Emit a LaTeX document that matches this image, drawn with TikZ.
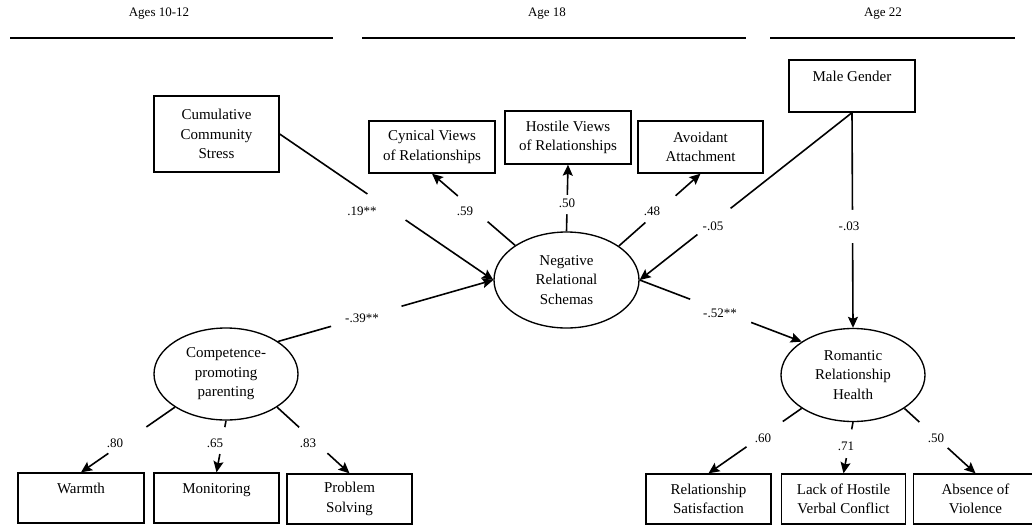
\documentclass[tikz,border=0pt]{standalone}
\usepackage{fontspec}
\setmainfont{Liberation Serif}
\usetikzlibrary{shapes.geometric,arrows.meta}
\begin{document}
\begin{tikzpicture}[x=1pt,y=-1pt,
  box/.style={draw, line width=1.35pt, rectangle, minimum width=125pt, minimum height=52pt, inner sep=0pt, align=center, font=\fontsize{15}{19.5}\selectfont},
  lat/.style={draw, line width=1.35pt, ellipse, minimum width=144pt, minimum height=92pt, inner sep=0pt, align=center, font=\fontsize{15}{19.5}\selectfont},
  arr/.style={line width=1.6pt, -{Stealth[length=11pt,width=10pt,inset=2pt]}},
  gapbox/.style={sloped, fill=white, inner sep=0pt, minimum height=6pt},
  coef/.style={font=\fontsize{13}{15}\selectfont, inner sep=0pt},
  hdr/.style={font=\fontsize{13}{15}\selectfont, inner sep=0pt},
  rulestyle/.style={line width=1.3pt}]
\fill[white] (0,0) rectangle (1032,525);
\useasboundingbox (0,0) rectangle (1032,525);

% headers
\node[hdr] (h1) at (159,14) {Ages 10-12};
\node[hdr] (h2) at (547,14) {Age 18};
\node[hdr] (h3) at (883,14) {Age 22};
\coordinate (r1a) at (10,38);  \coordinate (r1b) at (333,38);
\coordinate (r2a) at (362,38); \coordinate (r2b) at (746,38);
\coordinate (r3a) at (770,38); \coordinate (r3b) at (1015,38);
\draw[rulestyle] (r1a) -- (r1b);
\draw[rulestyle] (r2a) -- (r2b);
\draw[rulestyle] (r3a) -- (r3b);

% observed / latent variables
\node[box, minimum height=76pt] (cum) at (216.5,134) {Cumulative\\Community\\Stress};
\node[box, minimum width=126pt] (cyn) at (432,147) {Cynical Views\\of Relationships};
\node[box, minimum width=126pt, minimum height=53pt] (hos) at (568,137.5) {Hostile Views\\of Relationships};
\node[box] (avo) at (700.5,147) {Avoidant\\Attachment};
\node[box, minimum width=126pt] (male) at (852,86) {Male Gender\\\mbox{}};
\node[lat, minimum width=145pt, minimum height=96pt] (neg) at (566.5,280) {Negative\\Relational\\Schemas};
\node[lat] (comp) at (226,374) {Competence-\\promoting\\parenting};
\node[lat, minimum height=93pt] (rom) at (853,375) {Romantic\\Relationship\\Health};
\node[box, minimum width=126pt, minimum height=50pt] (warm) at (81,498) {Warmth\\\mbox{}};
\node[box, minimum height=50pt] (mon) at (216.5,498) {Monitoring\\\mbox{}};
\node[box, minimum height=50pt] (prob) at (349.5,499) {Problem\\Solving};
\node[box, minimum height=50pt] (rs) at (708.5,499) {Relationship\\Satisfaction};
\node[box, minimum width=124pt, minimum height=50pt] (lack) at (843.5,499) {Lack of Hostile\\Verbal Conflict};
\node[box, minimum width=124pt, minimum height=50pt] (abs) at (975.5,499) {Absence of\\Violence};

% structural paths
\draw[arr] (cum.east) -- node[gapbox, pos=0.5, minimum width=46pt] {} (neg.west);
\draw[arr] (comp.32) -- node[gapbox, pos=0.41, minimum width=73pt] {} (neg.west);
\draw[arr] (male.south) -- node[gapbox, pos=0.65, minimum width=42pt] {} (neg.east);
\draw[arr] (male.south) -- node[gapbox, pos=0.528, minimum width=33pt] {} (rom.north);
\draw[arr] (neg.east) -- node[gapbox, pos=0.5, minimum width=65pt] {} (rom.147);

% measurement paths
\draw[arr] (neg.146.6) -- node[gapbox, pos=0.51, minimum width=39pt] {} (cyn.south);
\draw[arr] (neg.north) -- node[gapbox, pos=0.4, minimum width=19pt] {} (hos.south);
\draw[arr] (neg.33.4) -- node[gapbox, pos=0.51, minimum width=40pt] {} (avo.south);
\draw[arr] (comp.213.7) -- node[gapbox, pos=0.506, minimum width=46pt] {} (warm.north);
\draw[arr] (comp.south) -- node[gapbox, pos=0.385, minimum width=27pt] {} (mon.north);
\draw[arr] (comp.-33) -- node[gapbox, pos=0.5, minimum width=38pt] {} (prob.north);
\draw[arr] (rom.213) -- node[gapbox, pos=0.397, minimum width=44pt] {} (rs.north);
\draw[arr] (rom.south) -- node[gapbox, pos=0.42, minimum width=29pt] {} (lack.north);
\draw[arr] (rom.-33) -- node[gapbox, pos=0.41, minimum width=38pt] {} (abs.north);

% coefficients
\node[coef] (c1) at (362,211) {.19**};
\node[coef] (c2) at (362,318) {-.39**};
\node[coef] (c3) at (713,226) {-.05};
\node[coef] (c4) at (849,226) {-.03};
\node[coef] (c5) at (720,313) {-.52**};
\node[coef] (c6) at (465,211) {.59};
\node[coef] (c7) at (567,203) {.50};
\node[coef] (c8) at (652,211) {.48};
\node[coef] (c9) at (115,443) {.80};
\node[coef] (c10) at (215,443) {.65};
\node[coef] (c11) at (308,443) {.83};
\node[coef] (c12) at (763,438) {.60};
\node[coef] (c13) at (846,446) {.71};
\node[coef] (c14) at (936,438) {.50};
\end{tikzpicture}
\end{document}
